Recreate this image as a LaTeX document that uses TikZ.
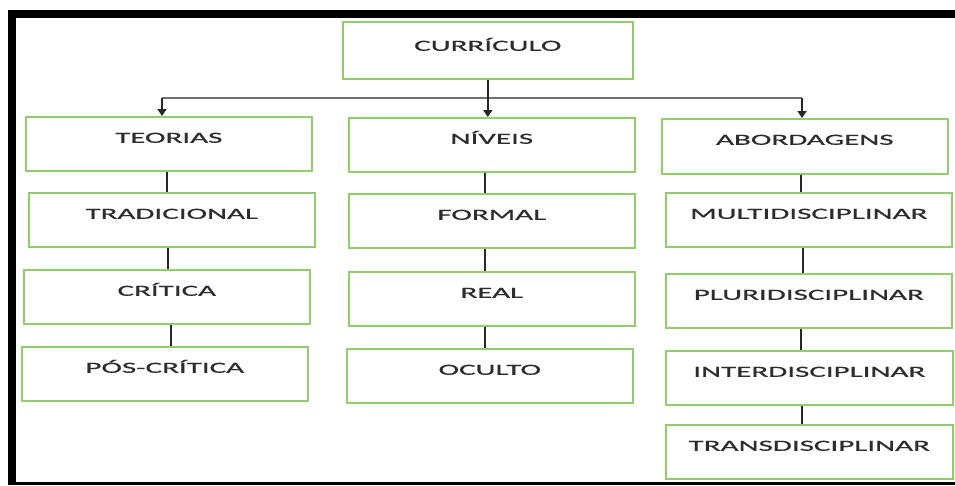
\documentclass[tikz,border=0pt]{standalone}
\usepackage{fontspec}
\usetikzlibrary{arrows.meta}
\newfontfamily\caixafont{Carlito}[FakeStretch=2.0, FakeBold=0.8]
\definecolor{verde}{RGB}{146,204,112}
\definecolor{texto}{RGB}{45,45,45}
\definecolor{cinza}{RGB}{112,112,112}

\begin{document}
\begin{tikzpicture}[x=1pt, y=-1pt,
    caixa/.style={draw=verde, line width=1.6pt, anchor=north west, inner sep=0pt,
      minimum width=286pt, text height=26pt, text depth=28pt, text=texto,
      font=\caixafont\fontsize{15.5}{18}\selectfont},
    liga/.style={line width=1.8pt, color=black!85},
    seta/.style={liga, -{Triangle[width=9pt, length=7pt]}},
    barra/.style={line width=1.5pt, color=cinza}]
    \useasboundingbox (0,0) rectangle (955,485);

    \fill[black] (8,10) rectangle (955,18);
    \fill[black] (8,10) rectangle (16,485);
    \fill[black] (8,482) rectangle (955,485);

    \node[caixa, minimum width=290pt, text height=29pt] (cur) at (342,21) {CURRÍCULO};

    \node[caixa] (teo) at (25,116) {TEORIAS};
    \node[caixa] (tra) at (28,192) {TRADICIONAL};
    \node[caixa] (cri) at (23,269) {CRÍTICA};
    \node[caixa] (pos) at (21,346) {PÓS-CRÍTICA};

    \node[caixa] (niv) at (348,117) {NÍVEIS};
    \node[caixa] (form) at (348,193) {FORMAL};
    \node[caixa] (rea) at (348,271) {REAL};
    \node[caixa] (ocu) at (346,348) {OCULTO};

    \node[caixa, text depth=29pt] (abo) at (661,118) {ABORDAGENS};
    \node[caixa] (mul) at (665,192) {MULTIDISCIPLINAR};
    \node[caixa] (plu) at (665,273) {PLURIDISCIPLINAR};
    \node[caixa, minimum width=287pt] (int) at (665,350) {INTERDISCIPLINAR};
    \node[caixa, minimum width=287pt] (trs) at (665,424) {TRANSDISCIPLINAR};

    \coordinate (esq) at (162,98);
    \coordinate (dir) at (802,98);
    \draw[barra] (esq) -- (dir);
    \draw[seta] (esq) -- (esq |- teo.north);
    \draw[seta] (cur.south) -- (cur.south |- niv.north);
    \draw[seta] (dir) -- (dir |- abo.north);

    \draw[liga] ([xshift=-2pt]teo.south) -- ([xshift=-2pt]teo.south |- tra.north);
    \draw[liga] ([xshift=-4pt]tra.south) -- ([xshift=-4pt]tra.south |- cri.north);
    \draw[liga] ([xshift=4pt]cri.south) -- ([xshift=4pt]cri.south |- pos.north);

    \draw[liga] ([xshift=-7pt]niv.south) -- ([xshift=-7pt]niv.south |- form.north);
    \draw[liga] ([xshift=-7pt]form.south) -- ([xshift=-7pt]form.south |- rea.north);
    \draw[liga] ([xshift=-7pt]rea.south) -- ([xshift=-7pt]rea.south |- ocu.north);

    \draw[liga] ([xshift=-4pt]abo.south) -- ([xshift=-4pt]abo.south |- mul.north);
    \draw[liga] ([xshift=-6pt]mul.south) -- ([xshift=-6pt]mul.south |- plu.north);
    \draw[liga] ([xshift=-8pt]plu.south) -- ([xshift=-8pt]plu.south |- int.north);
    \draw[liga] ([xshift=-7pt]int.south) -- ([xshift=-7pt]int.south |- trs.north);
  \end{tikzpicture}
\end{document}
